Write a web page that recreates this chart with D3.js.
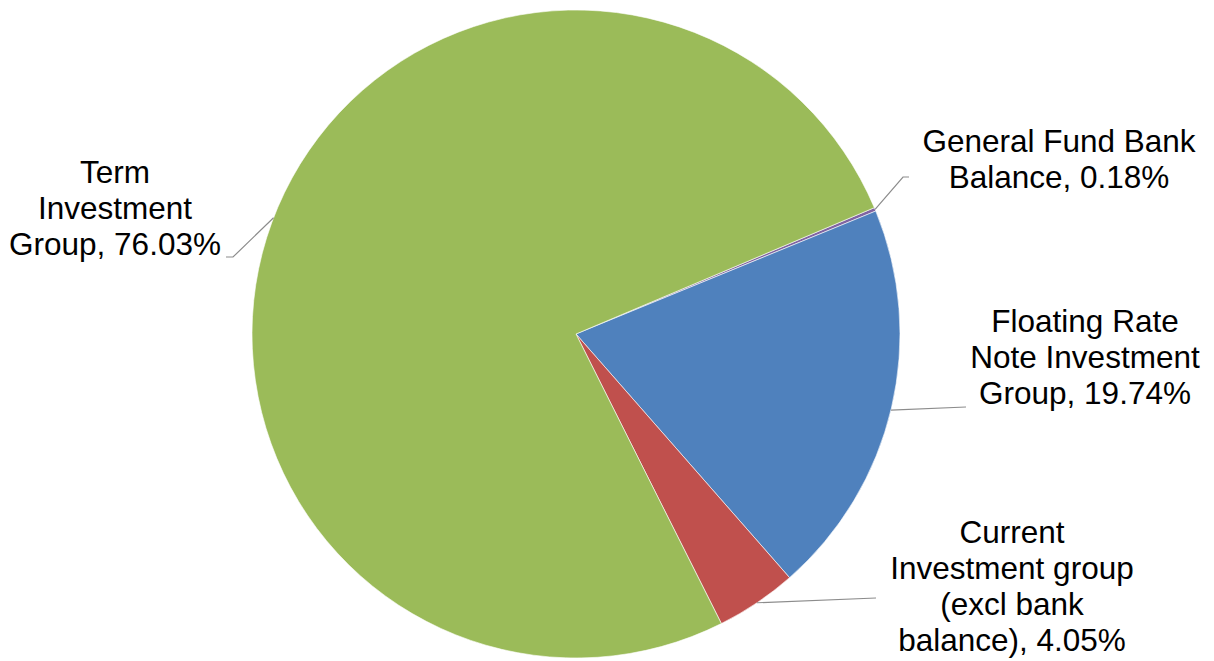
<!DOCTYPE html>
<html>
<head>
<meta charset="utf-8">
<script src="https://cdn.jsdelivr.net/npm/d3@7"></script>
<style>
  body { margin: 0; background: #fff; }
  svg text { font-family: "Liberation Sans", Arial, sans-serif; fill: #000; }
</style>
</head>
<body>
<script>
var width = 1214,
  height = 661;

// slices, clockwise from the top right
var categories = [
  "General Fund Bank Balance",
  "Floating Rate Note Investment Group",
  "Current Investment group (excl bank balance)",
  "Term Investment Group"
];
var values = [0.18, 19.74, 4.05, 76.03];
var colors = ["#8064A2", "#4F81BD", "#C0504D", "#9BBB59"];

// label text split in lines as in the picture
var labelLines = [
  ["General Fund Bank", "Balance, 0.18%"],
  ["Floating Rate", "Note Investment", "Group, 19.74%"],
  ["Current", "Investment group", "(excl bank", "balance), 4.05%"],
  ["Term", "Investment", "Group, 76.03%"]
];

var cx = 576, cy = 334, radius = 324;
var startDeg = 67.05;

var svg = d3.select("body").append("svg")
  .attr("width", width)
  .attr("height", height);

var pie = d3.pie()
  .sort(null)
  .value(function (d) { return d; })
  .startAngle(startDeg * Math.PI / 180)
  .endAngle((startDeg + 360) * Math.PI / 180);

var arcs = pie(values);

var arc = d3.arc().innerRadius(0).outerRadius(radius);

var g = svg.append("g").attr("transform", "translate(" + cx + "," + cy + ")");

g.selectAll("path")
  .data(arcs)
  .join("path")
  .attr("d", arc)
  .attr("fill", function (d, i) { return colors[i]; })
  .attr("stroke", "#fff")
  .attr("stroke-width", 0.6);

// label placement: center x and first baseline, elbow of the leader,
// and where along the slice the leader leaves the edge
var labelPos = [
  { x: 1059, y: 152, elbow: [903, 177], end: [909, 177], f: 0.5 },
  { x: 1085, y: 332, elbow: [966, 407], end: [966, 407], f: 0.505 },
  { x: 1012, y: 543, elbow: [876, 598], end: [876, 598], f: 0.5 },
  { x: 115, y: 183, elbow: [233, 257], end: [226, 257], f: 0.503 }
];
var lineH = 36;

arcs.forEach(function (d, i) {
  var p = labelPos[i];
  var a = d.startAngle + (d.endAngle - d.startAngle) * p.f;
  var sx = cx + Math.sin(a) * radius;
  var sy = cy - Math.cos(a) * radius;
  svg.append("path")
    .attr("d", d3.line()([[sx, sy], p.elbow, p.end]))
    .attr("fill", "none")
    .attr("stroke", "#8c8c8c")
    .attr("stroke-width", 1.2);

  var t = svg.append("text")
    .attr("text-anchor", "middle")
    .attr("font-size", 31.5);
  labelLines[i].forEach(function (line, k) {
    t.append("tspan")
      .attr("x", p.x)
      .attr("y", p.y + k * lineH)
      .text(line);
  });
});
</script>
</body>
</html>
